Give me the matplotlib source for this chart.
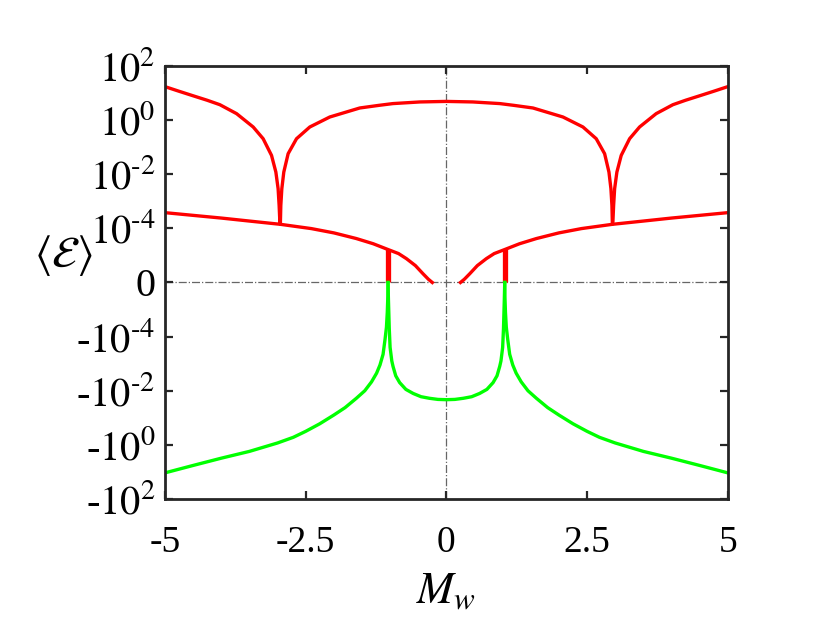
import numpy as np
import matplotlib
matplotlib.use("Agg")
import matplotlib.pyplot as plt

# values, E in its own units
# upper red branch (two cusps at about +-2.95)
top_m = [-5.0, -4.75, -4.5, -4.25, -4.025, -3.728, -3.433, -3.256, -3.107, -3.03, -2.99, -2.972,
         -2.959, -2.95, -2.942, -2.924, -2.889, -2.812, -2.663, -2.427, -2.072, -1.539, -1.2,
         -0.95, -0.47, 0.0,
         0.47, 0.95, 1.2, 1.539, 2.072, 2.427, 2.663, 2.812, 2.889, 2.924, 2.942, 2.95, 2.959,
         2.972, 2.99, 3.03, 3.107, 3.256, 3.433, 3.728, 4.025, 4.25, 4.5, 4.75, 5.0]
top_e = [17.2, 11.6, 7.9, 5.4, 3.7, 1.73, 0.556, 0.205, 0.0496, 0.012, 2.91e-3, 7.0e-4,
         1.71e-4, 1.41e-4, 7.0e-4, 2.91e-3, 0.012, 0.0573, 0.205, 0.556, 1.30, 2.80, 3.5,
         4.07, 4.68, 4.9,
         4.68, 4.07, 3.5, 2.80, 1.30, 0.556, 0.205, 0.0573, 0.012, 2.91e-3, 7.0e-4, 1.41e-4, 1.71e-4,
         7.0e-4, 2.91e-3, 0.012, 0.0496, 0.205, 0.556, 1.73, 3.7, 5.4, 7.9, 11.6, 17.2]

# lower red branches
low_m_left = [-5.0, -4.5, -4.0, -3.5, -2.95, -2.4, -2.0, -1.6, -1.3, -1.04,
              -0.85, -0.71, -0.55, -0.415, -0.32, -0.25]
low_e_left = [3.8e-4, 3.02e-4, 2.4e-4, 1.86e-4, 1.41e-4, 9.8e-5, 6.8e-5, 4.2e-5, 2.7e-5, 1.66e-5,
              1.17e-5, 7.6e-6, 4.2e-6, 2.1e-6, 1.32e-6, 0.0]
low_m_right = [0.25, 0.32, 0.415, 0.55, 0.71, 0.85,
               1.04, 1.3, 1.6, 2.0, 2.4, 2.95, 3.5, 4.0, 4.5, 5.0]
low_e_right = [0.0, 1.32e-6, 2.1e-6, 4.2e-6, 7.6e-6, 1.17e-5,
               1.66e-5, 2.7e-5, 4.2e-5, 6.8e-5, 9.8e-5, 1.41e-4, 1.86e-4, 2.4e-4, 3.02e-4, 3.8e-4]

# short red pieces at the poles
stem_m = [-1.037, 1.037]
stem_e = [1.66e-5, 1.66e-5]

# green branches (negative energies)
out_m_left = [-5.0, -4.5, -4.0, -3.5, -3.0, -2.72, -2.5, -2.25, -2.0, -1.8, -1.6, -1.45,
              -1.33, -1.24, -1.18, -1.125, -1.09, -1.065, -1.05, -1.04, -1.037]
out_e_left = [-10.8, -5.75, -3.1, -1.74, -0.85, -0.525, -0.316, -0.166, -0.079, -0.042, -0.019, -0.010,
              -4.7e-3, -2.24e-3, -1.12e-3, -4.5e-4, -1.26e-4, -4.5e-5, -1.26e-5, -3.2e-6, 0.0]
out_m_right = [1.037, 1.04, 1.05, 1.065, 1.09, 1.125, 1.18, 1.24, 1.33, 1.45, 1.6, 1.8,
               2.0, 2.25, 2.5, 2.72, 3.0, 3.5, 4.0, 4.5, 5.0]
out_e_right = [0.0, -3.2e-6, -1.26e-5, -4.5e-5, -1.26e-4, -4.5e-4, -1.12e-3, -2.24e-3, -4.7e-3, -0.010,
               -0.019, -0.042, -0.079, -0.166, -0.316, -0.525, -0.85, -1.74, -3.1, -5.75, -10.8]

mid_m = [-1.037, -1.03, -1.015, -1.0, -0.97, -0.948, -0.9, -0.83, -0.72, -0.59, -0.45, -0.3, -0.15, 0.0,
         0.15, 0.3, 0.45, 0.59, 0.72, 0.83, 0.9, 0.948, 0.97, 1.0, 1.015, 1.03, 1.037]
mid_e = [0.0, -4.0e-6, -5.0e-5, -2.5e-4, -7.9e-4, -1.26e-3, -2.8e-3, -5.0e-3, -8.9e-3, -0.0126, -0.0166,
         -0.019, -0.0209, -0.0214,
         -0.0209, -0.019, -0.0166, -0.0126, -8.9e-3, -5.0e-3, -2.8e-3, -1.26e-3, -7.9e-4, -2.5e-4, -5.0e-5,
         -4.0e-6, 0.0]

x_ticks = [-5, -2.5, 0, 2.5, 5]
x_labels = ['-5', '-2.5', '0', '2.5', '5']
y_ticks = [-1e2, -1e0, -1e-2, -1e-4, 0, 1e-4, 1e-2, 1e0, 1e2]
y_labels = ['-$10^{2}$', '-$10^{0}$', '-$10^{\u20102}$', '-$10^{\u20104}$', '0',
            '$10^{\u20104}$', '$10^{\u20102}$', '$10^{0}$', '$10^{2}$']


def fwd(y):
    # signed log, 1e-6 maps to zero, two decades per tick step
    y = np.asarray(y, dtype=float)
    a = np.abs(y)
    t = np.log10(np.where(a > 0, a, 1e-6)) + 6
    return np.sign(y) * np.clip(t, 0, None) / 2


def inv(t):
    t = np.asarray(t, dtype=float)
    return np.sign(t) * 10 ** (2 * np.abs(t) - 6)


plt.rcParams['mathtext.fontset'] = 'stix'
plt.rcParams['font.family'] = ['Liberation Serif', 'DejaVu Serif']

fig = plt.figure(figsize=(8.3, 6.24), dpi=100)
ax = fig.add_axes([0.1988, 0.2003, 0.678, 0.694])
ax.set_yscale('function', functions=(fwd, inv))

red = '#ff0000'
green = '#00ff00'
lw = 2.4

ax.axhline(0, color='#666666', lw=0.9, ls='-.', zorder=1)
ax.axvline(0, color='#666666', lw=0.9, ls='-.', zorder=1)

ax.plot(top_m, top_e, color=red, lw=lw)
ax.plot(low_m_left, low_e_left, color=red, lw=lw)
ax.plot(low_m_right, low_e_right, color=red, lw=lw)
for m, e in zip(stem_m, stem_e):
    ax.plot([m, m], [0, e], color=red, lw=3.8, solid_capstyle='butt')
ax.plot(out_m_left, out_e_left, color=green, lw=lw)
ax.plot(out_m_right, out_e_right, color=green, lw=lw)
ax.plot(mid_m, mid_e, color=green, lw=lw)

ax.set_xlim(-5, 5)
ax.set_ylim(-1e2, 1e2)
ax.set_xticks(x_ticks)
ax.set_xticklabels(x_labels)
ax.set_yticks(y_ticks)
ax.set_yticklabels(y_labels)
ax.minorticks_off()

ax.tick_params(direction='in', length=6, width=1.6, colors='#262626',
               top=True, right=True)
ax.tick_params(axis='x', pad=19, labelsize=27)
ax.tick_params(axis='y', pad=7, labelsize=29)
for lab in ax.get_xticklabels() + ax.get_yticklabels():
    lab.set_color('black')
for sp in ax.spines.values():
    sp.set_linewidth(2.0)
    sp.set_color('#262626')

ax.set_xlabel(r'$M_w$', fontsize=32)
ax.xaxis.set_label_coords(0.5, -0.168)
ax.set_ylabel(r'$\langle\mathcal{E}\rangle$', fontsize=32, rotation=0, ha='center', va='center')
ax.yaxis.set_label_coords(-0.18, 0.563)

fig.savefig('out.png', dpi=100)
plt.close(fig)
